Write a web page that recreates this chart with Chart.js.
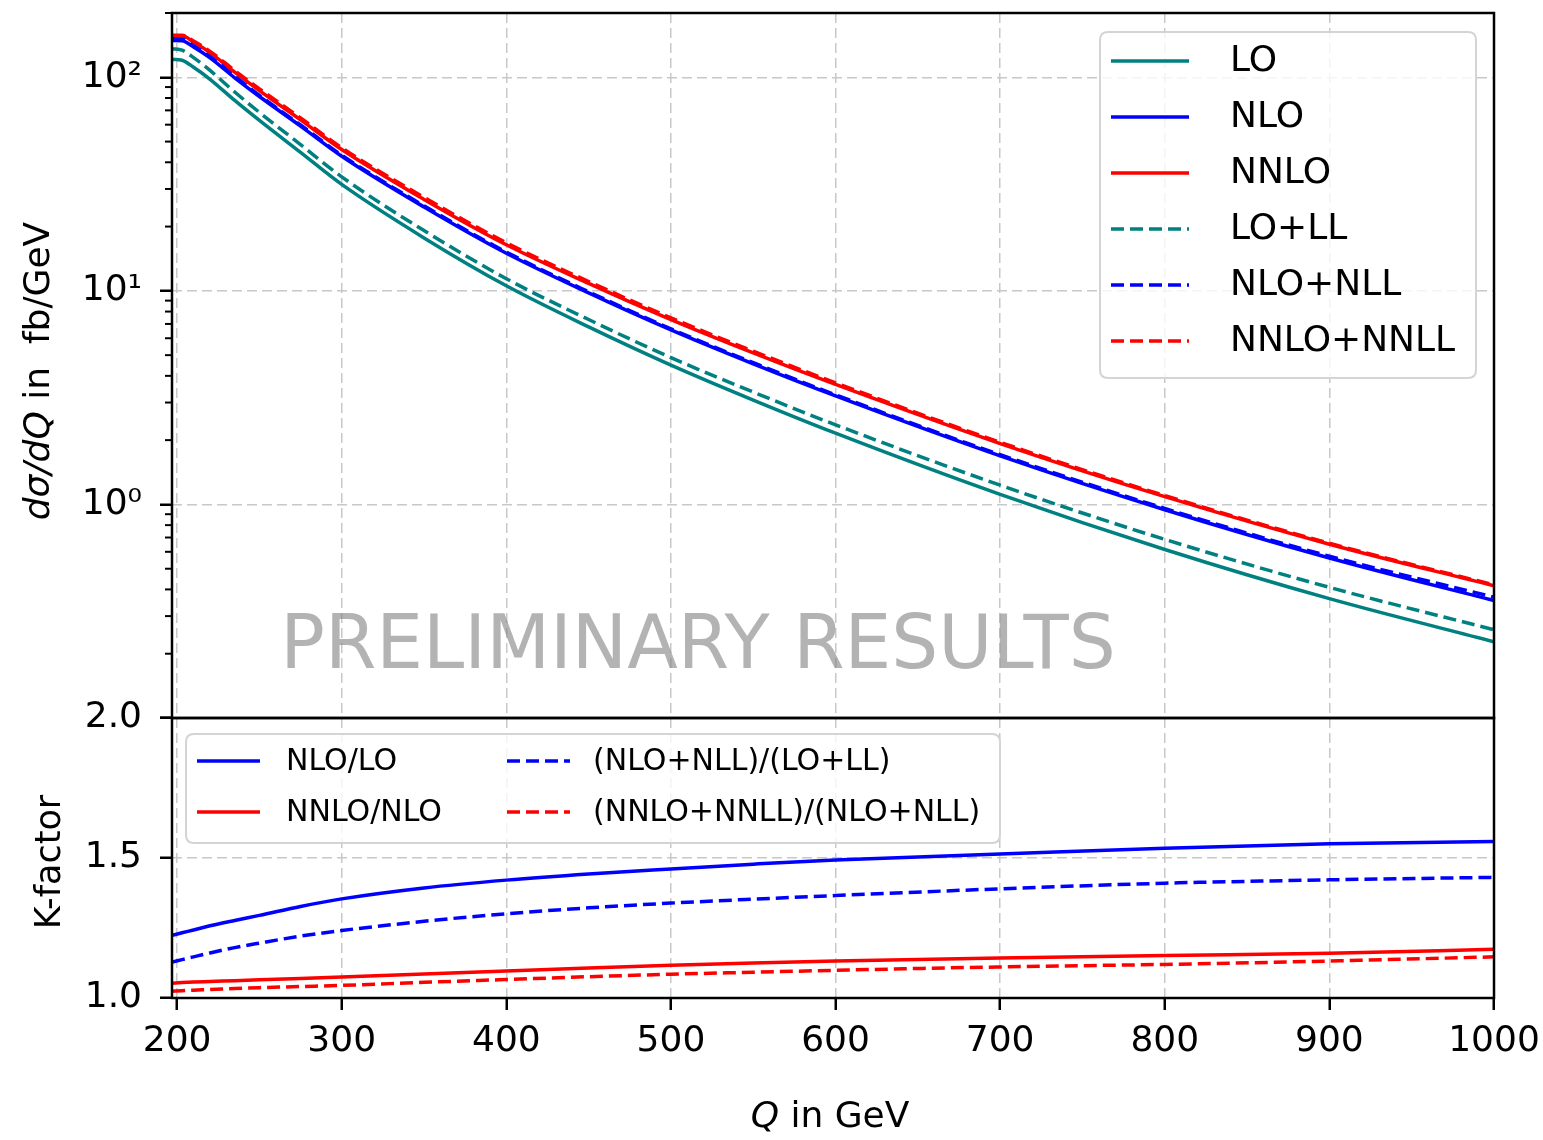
<!DOCTYPE html>
<html>
<head>
<meta charset="utf-8">
<script src="https://cdn.jsdelivr.net/npm/chart.js@4.4.1/dist/chart.umd.min.js"></script>
<style>
  html, body { margin: 0; padding: 0; background: #fff; }
  #wrap { width: 1543px; height: 1140px; }
</style>
</head>
<body>
<div id="wrap"><canvas id="qChart" width="1543" height="1140"></canvas></div>
<script>
// Q in GeV
const q = [197, 203, 210, 220, 235, 250, 275, 300, 350, 400, 450, 500, 550, 600, 700, 800, 900, 1000];

// d sigma / dQ in fb/GeV (upper panel)
const lo       = [121.5, 120.2, 111.4, 97.9, 77.9, 62.8, 44.5, 31.5, 17.7, 10.56, 6.78, 4.49, 3.08, 2.155, 1.114, 0.615, 0.362, 0.2274];
const nlo      = [148.7, 148.2, 138.5, 123.2, 99.5, 81.3, 59.1, 42.7, 24.7, 15.0, 9.78, 6.56, 4.55, 3.22, 1.687, 0.944, 0.561, 0.3545];
const nnlo     = [156.6, 156.4, 146.4, 130.5, 105.7, 86.6, 63.2, 45.9, 26.8, 16.44, 10.83, 7.33, 5.12, 3.645, 1.928, 1.087, 0.651, 0.416];
const loLL     = [136.1, 134.0, 123.7, 107.7, 85.3, 68.5, 48.4, 34.2, 19.15, 11.40, 7.34, 4.87, 3.36, 2.36, 1.231, 0.686, 0.409, 0.259];
const nloNLL   = [151.5, 151, 140.5, 125, 101, 82.3, 59.8, 43.2, 25.0, 15.2, 9.9, 6.64, 4.61, 3.26, 1.71, 0.958, 0.572, 0.368];
const nnloNNLL = [157.5, 157.3, 147.8, 132.3, 107.5, 88.3, 64.5, 46.8, 27.4, 16.8, 11.06, 7.48, 5.22, 3.71, 1.955, 1.10, 0.658, 0.42];

// K-factors (lower panel)
const kNloLo     = [1.224, 1.233, 1.243, 1.258, 1.277, 1.295, 1.327, 1.354, 1.393, 1.421, 1.443, 1.461, 1.478, 1.493, 1.514, 1.535, 1.551, 1.559];
const kNnloNlo   = [1.053, 1.055, 1.057, 1.059, 1.062, 1.065, 1.070, 1.075, 1.086, 1.096, 1.107, 1.117, 1.125, 1.132, 1.143, 1.152, 1.160, 1.174];
const kNloNll    = [1.128, 1.137, 1.147, 1.161, 1.180, 1.196, 1.221, 1.241, 1.274, 1.301, 1.322, 1.339, 1.353, 1.366, 1.390, 1.410, 1.422, 1.431];
const kNnloNnll  = [1.024, 1.026, 1.028, 1.030, 1.034, 1.037, 1.041, 1.045, 1.056, 1.066, 1.076, 1.085, 1.092, 1.099, 1.111, 1.120, 1.132, 1.147];

// ticks
const xTicks = [200, 300, 400, 500, 600, 700, 800, 900, 1000];
const yTicks = [0.1, 1, 10, 100];
const yTickLabels = ['', '10⁰', '10¹', '10²'];
const yMinorTicks = [0.2, 0.3, 0.4, 0.5, 0.6, 0.7, 0.8, 0.9, 2, 3, 4, 5, 6, 7, 8, 9, 20, 30, 40, 50, 60, 70, 80, 90, 200];
const kTicks = [1.0, 1.5, 2.0];

const TEAL = '#008080', BLUE = '#0000ff', RED = '#ff0000';
const DASH = [13, 6];
const FONT = '"DejaVu Sans", "Liberation Sans", sans-serif';

const pts = ys => q.map((x, i) => ({ x: x, y: ys[i] }));

function line(label, ys, color, dash, axis, order) {
  return {
    label: label,
    data: pts(ys),
    borderColor: color,
    backgroundColor: color,
    borderWidth: 3.5,
    borderDash: dash,
    pointRadius: 0,
    fill: false,
    cubicInterpolationMode: 'monotone',
    yAxisID: axis,
    order: order
  };
}

const topSeries = [
  line('LO', lo, TEAL, [], 'y', 10),
  line('NLO', nlo, BLUE, [], 'y', 9),
  line('NNLO', nnlo, RED, [], 'y', 8),
  line('LO+LL', loLL, TEAL, DASH, 'y', 7),
  line('NLO+NLL', nloNLL, BLUE, DASH, 'y', 6),
  line('NNLO+NNLL', nnloNNLL, RED, DASH, 'y', 5)
];
const kSeries = [
  line('NLO/LO', kNloLo, BLUE, [], 'k', 4),
  line('NNLO/NLO', kNnloNlo, RED, [], 'k', 3),
  line('(NLO+NLL)/(LO+LL)', kNloNll, BLUE, DASH, 'k', 2),
  line('(NNLO+NNLL)/(NLO+NLL)', kNnloNnll, RED, DASH, 'k', 1)
];

const gridOpts = { color: '#c8c8c8', lineWidth: 1.5, tickLength: 12, tickWidth: 2.5, tickColor: '#000' };
const tickFont = { family: FONT, size: 36 };

// no automatic padding from the tick labels: the plot box is fixed
function noPad(s) {
  s.paddingTop = 0; s.paddingBottom = 0; s.paddingLeft = 0; s.paddingRight = 0;
}

// write a string made of italic / upright parts, centred on (cx, cy), optionally rotated
function drawParts(ctx, parts, size, cx, cy, rotate) {
  ctx.save();
  ctx.translate(cx, cy);
  if (rotate) ctx.rotate(-Math.PI / 2);
  let total = 0;
  parts.forEach(p => {
    ctx.font = (p[1] ? 'italic ' : '') + size + 'px ' + FONT;
    total += ctx.measureText(p[0]).width;
  });
  let x = -total / 2;
  ctx.fillStyle = '#000';
  ctx.textBaseline = 'middle';
  ctx.textAlign = 'left';
  parts.forEach(p => {
    ctx.font = (p[1] ? 'italic ' : '') + size + 'px ' + FONT;
    ctx.fillText(p[0], x, 0);
    x += ctx.measureText(p[0]).width;
  });
  ctx.restore();
}

function roundRect(ctx, x, y, w, h, r) {
  ctx.beginPath();
  ctx.moveTo(x + r, y);
  ctx.lineTo(x + w - r, y);
  ctx.quadraticCurveTo(x + w, y, x + w, y + r);
  ctx.lineTo(x + w, y + h - r);
  ctx.quadraticCurveTo(x + w, y + h, x + w - r, y + h);
  ctx.lineTo(x + r, y + h);
  ctx.quadraticCurveTo(x, y + h, x, y + h - r);
  ctx.lineTo(x, y + r);
  ctx.quadraticCurveTo(x, y, x + r, y);
  ctx.closePath();
}

function drawLegend(ctx, box, items, size) {
  ctx.save();
  roundRect(ctx, box.x, box.y, box.w, box.h, 8);
  ctx.fillStyle = 'rgba(255,255,255,0.8)';
  ctx.fill();
  ctx.strokeStyle = '#d4d4d4';
  ctx.lineWidth = 2;
  ctx.stroke();
  ctx.font = size + 'px ' + FONT;
  ctx.textBaseline = 'middle';
  ctx.textAlign = 'left';
  items.forEach(it => {
    ctx.strokeStyle = it.ds.borderColor;
    ctx.lineWidth = 3.5;
    ctx.setLineDash(it.ds.borderDash);
    ctx.beginPath();
    ctx.moveTo(it.hx, it.y);
    ctx.lineTo(it.hx + box.handle, it.y);
    ctx.stroke();
    ctx.setLineDash([]);
    ctx.fillStyle = '#000';
    ctx.fillText(it.ds.label, it.tx, it.y + 1);
  });
  ctx.restore();
}

const decor = {
  id: 'decor',
  beforeDatasetsDraw(chart) {
    const ctx = chart.ctx;
    ctx.save();
    ctx.font = '74px ' + FONT;
    ctx.fillStyle = 'rgba(128,128,128,0.6)';
    ctx.textAlign = 'center';
    ctx.textBaseline = 'alphabetic';
    ctx.fillText('PRELIMINARY RESULTS', 698, 668);
    ctx.restore();
  },
  afterDraw(chart) {
    const ctx = chart.ctx;
    const ys = chart.scales.y, ks = chart.scales.k, xs = chart.scales.x;
    const L = xs.left, R = xs.right;

    // minor ticks of the log axis
    ctx.save();
    ctx.strokeStyle = '#000';
    ctx.lineWidth = 2;
    yMinorTicks.forEach(v => {
      const py = ys.getPixelForValue(v);
      ctx.beginPath();
      ctx.moveTo(L, py);
      ctx.lineTo(L - 7, py);
      ctx.stroke();
    });

    // panel frames
    ctx.lineWidth = 2.5;
    ctx.strokeRect(L, ys.top, R - L, ys.bottom - ys.top);
    ctx.strokeRect(L, ks.top, R - L, ks.bottom - ks.top);
    ctx.restore();

    // legends
    const top = chart.data.datasets.slice(0, 6);
    drawLegend(ctx, { x: 1100, y: 32, w: 376, h: 346, handle: 78 },
      top.map((ds, i) => ({ ds: ds, hx: 1111, tx: 1230, y: 61 + i * 56 })), 36);
    const bot = chart.data.datasets.slice(6);
    drawLegend(ctx, { x: 186, y: 734, w: 814, h: 109, handle: 63 },
      bot.map((ds, i) => ({ ds: ds, hx: i < 2 ? 197 : 507, tx: i < 2 ? 286 : 593, y: 761 + (i % 2) * 51 })), 30);

    // axis titles
    drawParts(ctx, [['dσ/dQ', true], [' in  fb/GeV', false]], 36, 40, 371, true);
    drawParts(ctx, [['K-factor', false]], 35, 51, 862, true);
    drawParts(ctx, [['Q', true], [' in GeV', false]], 36, 830, 1118, false);
  }
};

new Chart(document.getElementById('qChart'), {
  type: 'line',
  data: { datasets: topSeries.concat(kSeries) },
  options: {
    responsive: false,
    devicePixelRatio: 1,
    animation: false,
    layout: { autoPadding: false, padding: { left: 0, right: 49, top: 13, bottom: 0 } },
    plugins: { legend: { display: false }, tooltip: { enabled: false } },
    scales: {
      x: {
        type: 'linear',
        min: 196.9,
        max: 1000,
        afterBuildTicks: s => { s.ticks = xTicks.map(v => ({ value: v })); },
        afterFit: s => { s.height = 142; noPad(s); },
        ticks: { font: tickFont, color: '#000', padding: 10, maxRotation: 0, autoSkip: false, callback: v => String(v) },
        grid: gridOpts,
        border: { display: false, dash: [10, 5] }
      },
      k: {
        type: 'linear',
        position: 'left',
        stack: 'panels',
        stackWeight: 280,
        min: 1,
        max: 2,
        afterBuildTicks: s => { s.ticks = kTicks.map(v => ({ value: v })); },
        afterFit: s => { s.width = 172; noPad(s); },
        ticks: { font: tickFont, color: '#000', padding: 18, autoSkip: false, callback: v => v.toFixed(1) },
        grid: gridOpts,
        border: { display: false, dash: [10, 5] }
      },
      y: {
        type: 'logarithmic',
        position: 'left',
        stack: 'panels',
        stackWeight: 705,
        min: 0.1,
        max: 200,
        afterBuildTicks: s => { s.ticks = yTicks.map(v => ({ value: v })); },
        afterFit: s => { s.width = 172; noPad(s); },
        ticks: { font: tickFont, color: '#000', padding: 18, autoSkip: false, callback: (v, i) => yTickLabels[i] },
        grid: gridOpts,
        border: { display: false, dash: [10, 5] }
      }
    }
  },
  plugins: [decor]
});
</script>
</body>
</html>
